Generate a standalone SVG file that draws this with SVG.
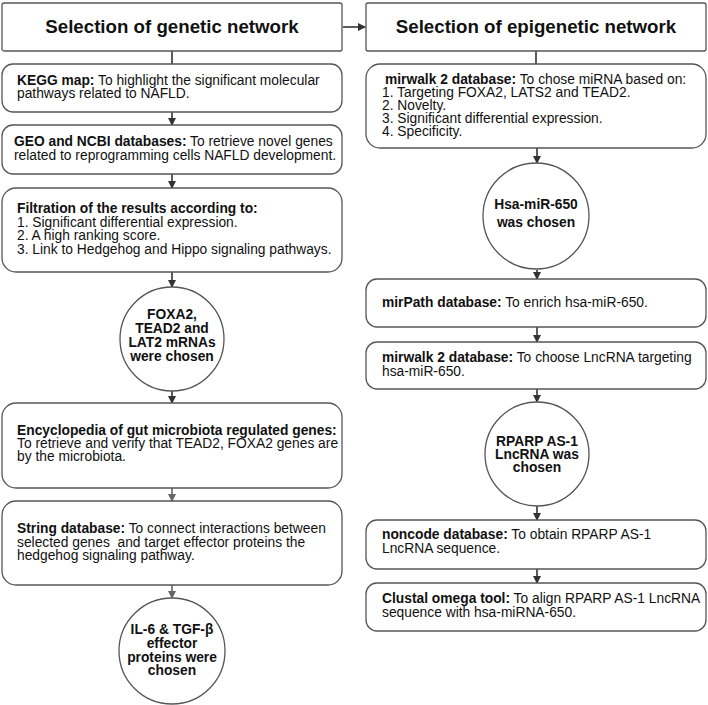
<svg xmlns="http://www.w3.org/2000/svg" width="708" height="705" viewBox="0 0 708 705">
<defs>
<marker id="ah" markerWidth="8" markerHeight="8" refX="7" refY="4" orient="auto" markerUnits="userSpaceOnUse"><path d="M0,0 L8,4 L0,8 Z" fill="#333"/></marker>
<marker id="ahg" markerWidth="8" markerHeight="8" refX="7" refY="4" orient="auto" markerUnits="userSpaceOnUse"><path d="M0,0 L8,4 L0,8 Z" fill="#666"/></marker>
<style>
.box{fill:#fff;stroke:#555;stroke-width:1.3}
.t{font-family:"Liberation Sans",Arial,sans-serif;font-size:13.8px;fill:#111}
.b{font-weight:bold}
.h{font-family:"Liberation Sans",Arial,sans-serif;font-size:18.7px;font-weight:bold;fill:#111}
.c{stroke:#333;stroke-width:1.6;fill:none}
.cg{stroke:#666;stroke-width:1.6;fill:none}
</style>
</defs>
<rect width="708" height="705" fill="#fff"/>
<g id="connectors">
<line class="c" x1="343" y1="27" x2="365" y2="27" marker-end="url(#ah)"/>
<line class="c" x1="172" y1="51" x2="172" y2="64"/>
<line class="c" x1="172" y1="112" x2="172" y2="125" marker-end="url(#ah)"/>
<line class="c" x1="172" y1="174" x2="172" y2="188" marker-end="url(#ah)"/>
<line class="c" x1="172" y1="272" x2="172" y2="287" marker-end="url(#ah)"/>
<line class="c" x1="172" y1="390" x2="172" y2="403" marker-end="url(#ah)"/>
<line class="cg" x1="172" y1="488" x2="172" y2="501" marker-end="url(#ahg)"/>
<line class="cg" x1="172" y1="585" x2="172" y2="598" marker-end="url(#ahg)"/>
<line class="c" x1="536" y1="51" x2="536" y2="64"/>
<line class="c" x1="537" y1="148" x2="537" y2="163" marker-end="url(#ah)"/>
<line class="c" x1="537" y1="270" x2="537" y2="279" marker-end="url(#ah)"/>
<line class="c" x1="537" y1="327" x2="537" y2="342" marker-end="url(#ah)"/>
<line class="c" x1="537" y1="389" x2="537" y2="402" marker-end="url(#ah)"/>
<line class="c" x1="537" y1="506" x2="537" y2="520" marker-end="url(#ah)"/>
<line class="c" x1="537" y1="569" x2="537" y2="583" marker-end="url(#ah)"/>
</g>
<g id="head-left">
<rect class="box" x="2" y="3" width="340" height="48" rx="2"/>
<text class="h" x="172" y="33" text-anchor="middle">Selection of genetic network</text>
</g>
<g id="head-right">
<rect class="box" x="366" y="3" width="340" height="48" rx="2"/>
<text class="h" x="536" y="33" text-anchor="middle">Selection of epigenetic network</text>
</g>
<g id="kegg">
<rect class="box" x="2" y="64" width="340" height="48" rx="11"/>
<text class="t" x="17" y="85"><tspan class="b">KEGG map:</tspan> To highlight the significant molecular</text>
<text class="t" x="17" y="98">pathways related to NAFLD.</text>
</g>
<g id="geo">
<rect class="box" x="2" y="125" width="340" height="49" rx="11"/>
<text class="t" x="14" y="146"><tspan class="b">GEO and NCBI databases:</tspan> To retrieve novel genes</text>
<text class="t" x="14" y="160">related to reprogramming cells NAFLD development.</text>
</g>
<g id="filtration">
<rect class="box" x="2" y="188" width="340" height="84" rx="14"/>
<text class="t" x="17" y="213"><tspan class="b">Filtration of the results according to:</tspan></text>
<text class="t" x="17" y="227">1. Significant differential expression.</text>
<text class="t" x="17" y="240">2. A high ranking score.</text>
<text class="t" x="17" y="254">3. Link to Hedgehog and Hippo signaling pathways.</text>
</g>
<g id="foxa2">
<circle class="box" cx="172" cy="339" r="52"/>
<text class="t b" text-anchor="middle"><tspan x="172" y="319">FOXA2,</tspan><tspan x="172" y="333">TEAD2 and</tspan><tspan x="172" y="347">LAT2 mRNAs</tspan><tspan x="172" y="361">were chosen</tspan></text>
</g>
<g id="encyclopedia">
<rect class="box" x="2" y="403" width="340" height="85" rx="14"/>
<text class="t" x="17" y="435"><tspan class="b">Encyclopedia of gut microbiota regulated genes:</tspan></text>
<text class="t" x="17" y="448">To retrieve and verify that TEAD2, FOXA2 genes are</text>
<text class="t" x="17" y="461">by the microbiota.</text>
</g>
<g id="string">
<rect class="box" x="2" y="501" width="340" height="84" rx="14"/>
<text class="t" x="17" y="533"><tspan class="b">String database:</tspan> To connect interactions between</text>
<text class="t" x="17" y="547" xml:space="preserve">selected genes  and target effector proteins the</text>
<text class="t" x="17" y="560">hedgehog signaling pathway.</text>
</g>
<g id="il6">
<circle class="box" cx="172" cy="651" r="53"/>
<text class="t b" text-anchor="middle"><tspan x="172" y="634">IL-6 &amp; TGF-β</tspan><tspan x="172" y="648">effector</tspan><tspan x="172" y="662">proteins were</tspan><tspan x="172" y="675">chosen</tspan></text>
</g>
<g id="mirwalk1">
<rect class="box" x="366" y="64" width="340" height="84" rx="14"/>
<text class="t" x="385" y="84"><tspan class="b">mirwalk 2 database:</tspan> To chose miRNA based on:</text>
<text class="t" x="382" y="97">1. Targeting FOXA2, LATS2 and TEAD2.</text>
<text class="t" x="382" y="110">2. Novelty.</text>
<text class="t" x="382" y="123">3. Significant differential expression.</text>
<text class="t" x="382" y="136">4. Specificity.</text>
</g>
<g id="mir650">
<circle class="box" cx="536" cy="216" r="53"/>
<text class="t b" text-anchor="middle"><tspan x="536" y="209">Hsa-miR-650</tspan><tspan x="536" y="227">was chosen</tspan></text>
</g>
<g id="mirpath">
<rect class="box" x="366" y="279" width="340" height="48" rx="11"/>
<text class="t" x="382" y="307"><tspan class="b">mirPath database:</tspan> To enrich hsa-miR-650.</text>
</g>
<g id="mirwalk2">
<rect class="box" x="366" y="342" width="340" height="47" rx="11"/>
<text class="t" x="382" y="362"><tspan class="b">mirwalk 2 database:</tspan> To choose LncRNA targeting</text>
<text class="t" x="382" y="376">hsa-miR-650.</text>
</g>
<g id="rparp">
<circle class="box" cx="537" cy="454" r="52"/>
<text class="t b" text-anchor="middle"><tspan x="537" y="446">RPARP AS-1</tspan><tspan x="537" y="459">LncRNA was</tspan><tspan x="537" y="472">chosen</tspan></text>
</g>
<g id="noncode">
<rect class="box" x="366" y="520" width="340" height="49" rx="11"/>
<text class="t" x="382" y="539"><tspan class="b">noncode database:</tspan> To obtain RPARP AS-1</text>
<text class="t" x="382" y="553">LncRNA sequence.</text>
</g>
<g id="clustal">
<rect class="box" x="366" y="583" width="340" height="48" rx="11"/>
<text class="t" x="382" y="603"><tspan class="b">Clustal omega tool:</tspan> To align RPARP AS-1 LncRNA</text>
<text class="t" x="382" y="617">sequence with hsa-miRNA-650.</text>
</g>
</svg>
